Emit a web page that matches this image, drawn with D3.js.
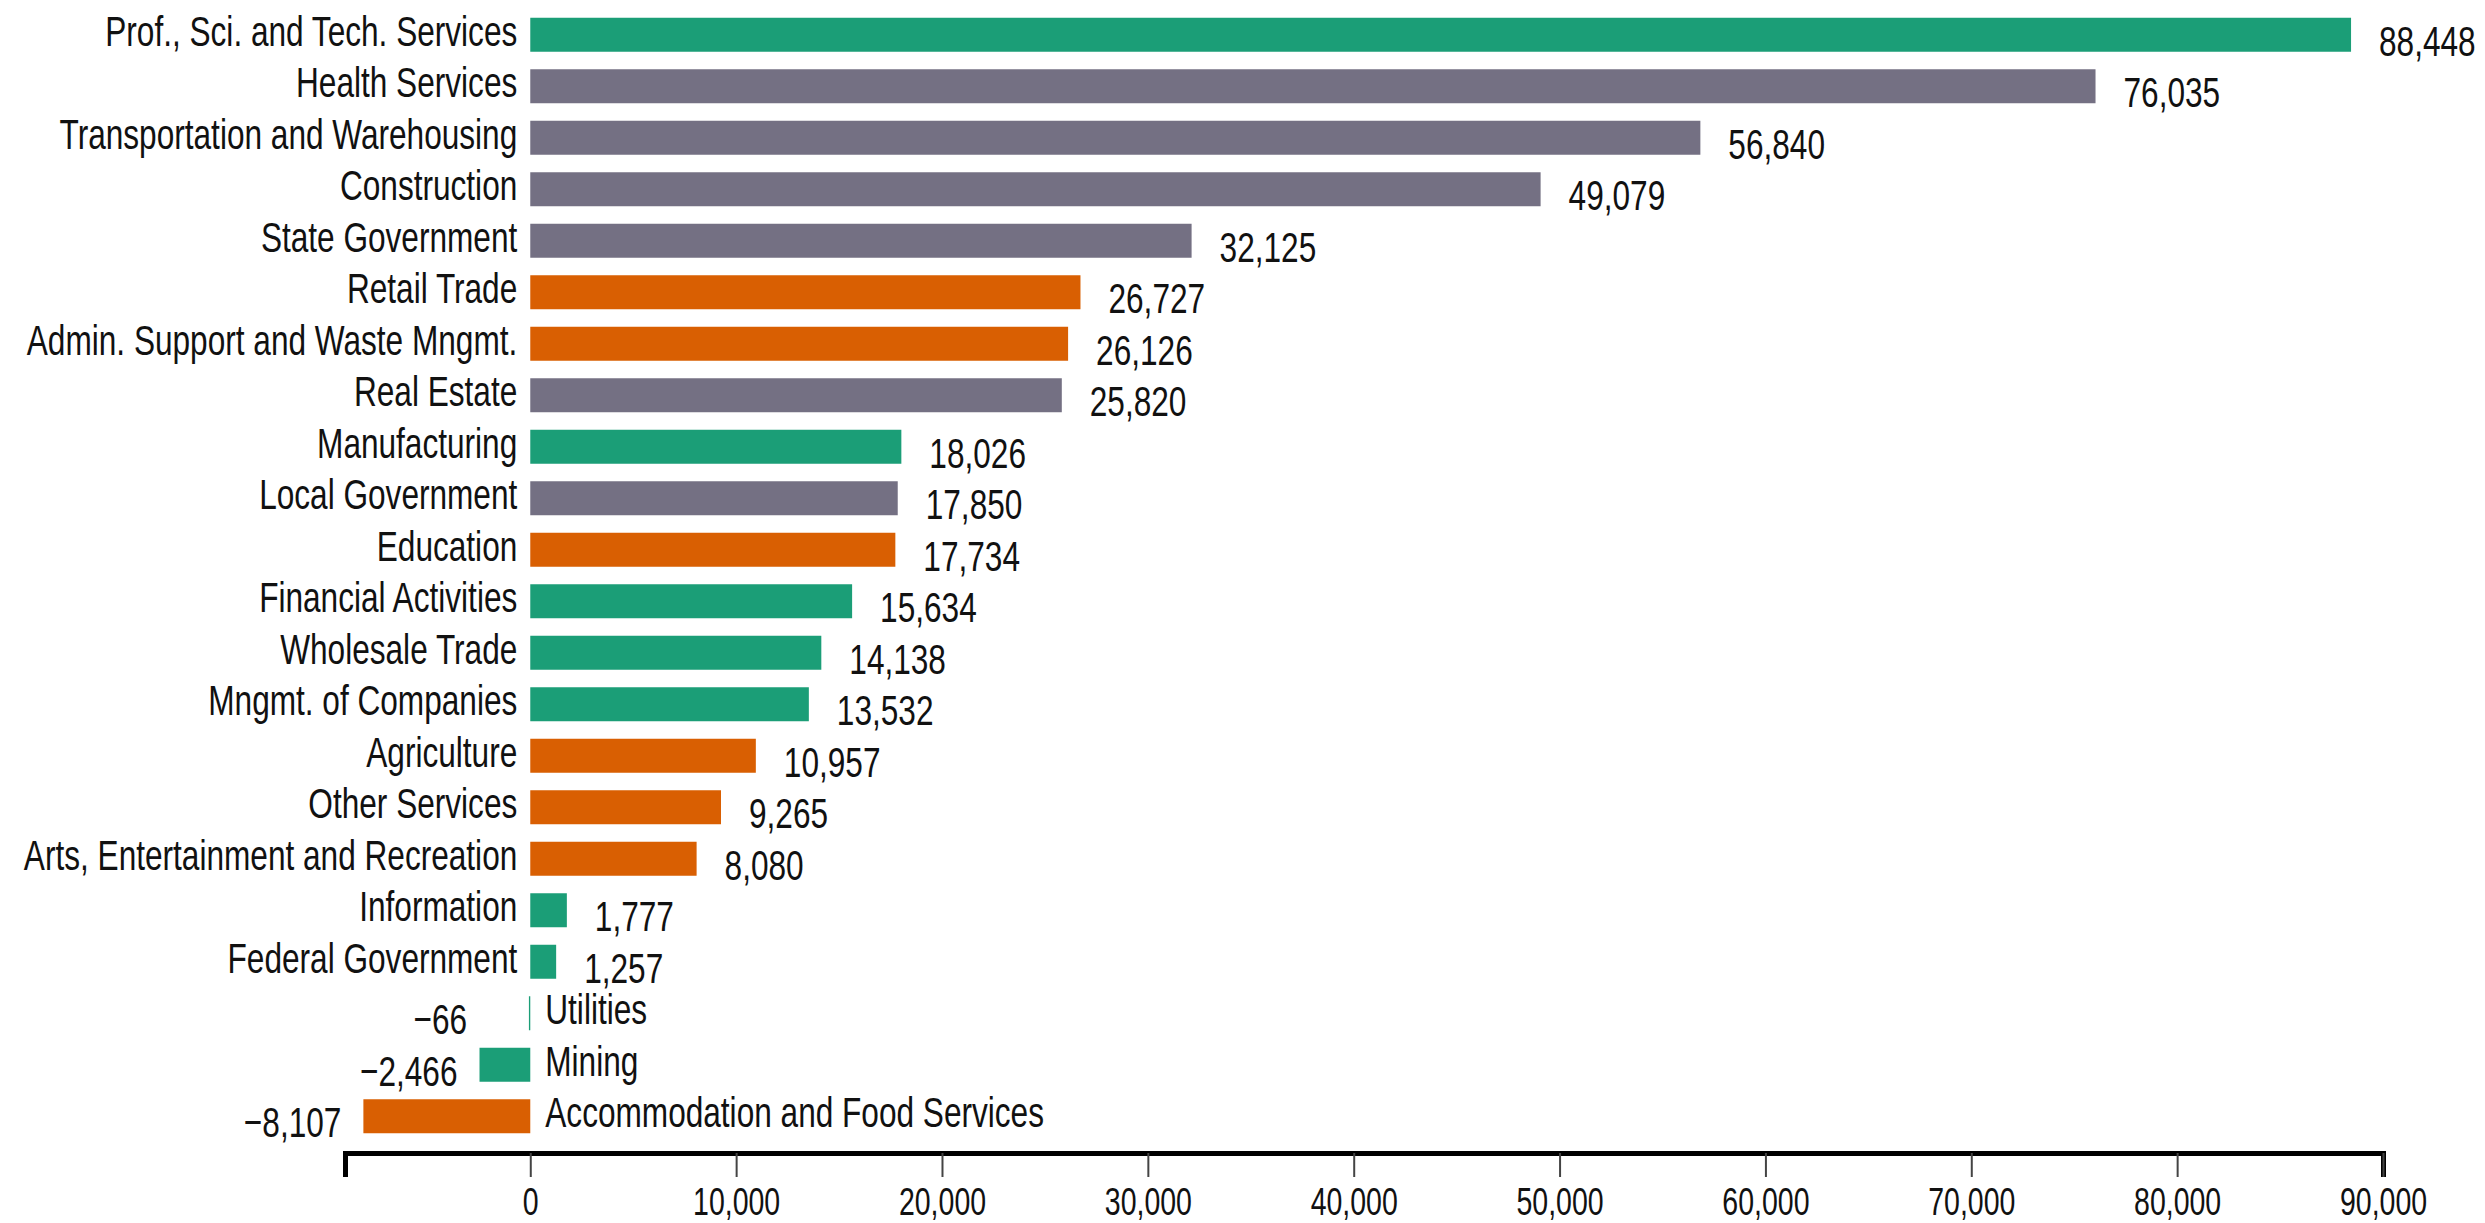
<!DOCTYPE html>
<html lang="en">
<head>
<meta charset="utf-8">
<title>Change by industry</title>
<script src="https://d3js.org/d3.v7.min.js"></script>
<style>
  body { margin: 0; background: #fff; }
  text { font-family: "Liberation Sans", Arial, sans-serif; fill: #111; }
  .domain { stroke: #000; stroke-width: 5px; }
  .tick line { stroke: #444; stroke-width: 2px; }
</style>
</head>
<body>
<div id="chart"></div>
<script>
// data, sorted as in the chart
var industries = [
  "Prof., Sci. and Tech. Services", "Health Services", "Transportation and Warehousing",
  "Construction", "State Government", "Retail Trade", "Admin. Support and Waste Mngmt.",
  "Real Estate", "Manufacturing", "Local Government", "Education", "Financial Activities",
  "Wholesale Trade", "Mngmt. of Companies", "Agriculture", "Other Services",
  "Arts, Entertainment and Recreation", "Information", "Federal Government", "Utilities",
  "Mining", "Accommodation and Food Services"
];
var change = [
  88448, 76035, 56840, 49079, 32125, 26727, 26126, 25820, 18026, 17850, 17734, 15634,
  14138, 13532, 10957, 9265, 8080, 1777, 1257, -66, -2466, -8107
];
var group = [
  "a", "b", "b", "b", "b", "c", "c", "b", "a", "b", "c", "a",
  "a", "a", "c", "c", "c", "a", "a", "a", "a", "c"
];
var groupColors = { a: "#1b9e77", b: "#747083", c: "#d95f02" };
var xTicks = [0, 10000, 20000, 30000, 40000, 50000, 60000, 70000, 80000, 90000];

var data = industries.map(function(d, i) {
  return { name: d, value: change[i], group: group[i] };
});

var width = 2485, height = 1223;
var fmt = d3.format(",");
var sx = 0.735; // glyphs in the picture are squeezed horizontally

var x = d3.scaleLinear().domain([-9000, 90000]).range([345, 2383]);
var y = d3.scaleBand().domain(industries).range([9, 1142])
    .paddingInner(0.34).paddingOuter(0.17);

var svg = d3.select("#chart").append("svg")
    .attr("width", width)
    .attr("height", height);

svg.selectAll(".bar")
    .data(data)
  .enter().append("rect")
    .attr("class", "bar")
    .attr("x", function(d) { return x(Math.min(0, d.value)); })
    .attr("y", function(d) { return y(d.name); })
    .attr("width", function(d) { return Math.abs(x(d.value) - x(0)); })
    .attr("height", y.bandwidth())
    .attr("fill", function(d) { return groupColors[d.group]; });

// category names
svg.selectAll(".name")
    .data(data)
  .enter().append("g")
    .attr("class", "name")
    .attr("transform", function(d) {
      var tx = d.value < 0 ? x(0) + 15 : x(0) - 13;
      return "translate(" + tx + "," + (y(d.name) + y.bandwidth() / 2 + 11) + ")";
    })
  .append("text")
    .attr("transform", "scale(" + sx + ",1)")
    .attr("text-anchor", function(d) { return d.value < 0 ? "start" : "end"; })
    .style("font-size", "43px")
    .text(function(d) { return d.name; });

// value labels
svg.selectAll(".val")
    .data(data)
  .enter().append("g")
    .attr("class", "val")
    .attr("transform", function(d) {
      var tx = d.value < 0 ? x(Math.min(d.value, -2000)) - 22 : x(d.value) + 28;
      return "translate(" + tx + "," + (y(d.name) + y.bandwidth() / 2 + 21) + ")";
    })
  .append("text")
    .attr("transform", "scale(" + sx + ",1)")
    .attr("text-anchor", function(d) { return d.value < 0 ? "end" : "start"; })
    .style("font-size", "43px")
    .text(function(d) { return fmt(d.value); });

var xAxis = svg.append("g")
    .attr("transform", "translate(0,1153)")
    .call(d3.axisBottom(x).tickValues(xTicks).tickFormat(fmt)
      .tickSize(24).tickSizeOuter(24).tickPadding(11));

xAxis.selectAll(".tick text")
    .attr("transform", "scale(0.75,1)")
    .style("font-size", "38px")
    .attr("fill", "#111");
</script>
</body>
</html>
